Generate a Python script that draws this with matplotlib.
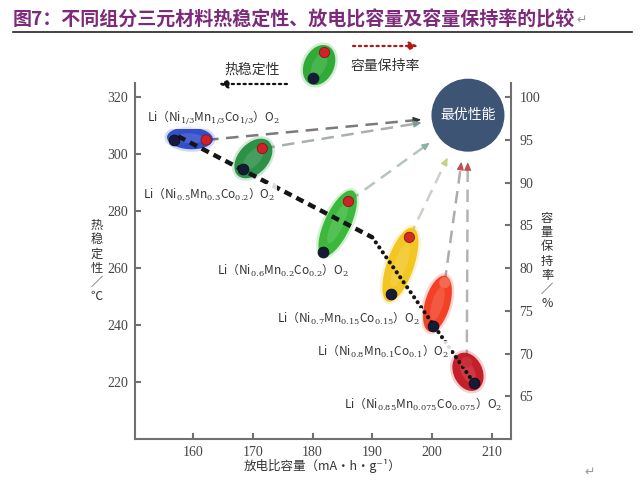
import numpy as np
import matplotlib
matplotlib.use("Agg")
import matplotlib.pyplot as plt
from matplotlib.patches import Ellipse, Circle
from matplotlib.lines import Line2D
from matplotlib import transforms

plt.rcParams['font.family'] = ['Noto Sans CJK SC', 'DejaVu Sans']
plt.rcParams['mathtext.fontset'] = 'dejavuserif'

# ---- data ----
labels = [r"Li（Ni$_{1/3}$Mn$_{1/3}$Co$_{1/3}$）O$_2$",
          r"Li（Ni$_{0.5}$Mn$_{0.3}$Co$_{0.2}$）O$_2$",
          r"Li（Ni$_{0.6}$Mn$_{0.2}$Co$_{0.2}$）O$_2$",
          r"Li（Ni$_{0.7}$Mn$_{0.15}$Co$_{0.15}$）O$_2$",
          r"Li（Ni$_{0.8}$Mn$_{0.1}$Co$_{0.1}$）O$_2$",
          r"Li（Ni$_{0.85}$Mn$_{0.075}$Co$_{0.075}$）O$_2$"]
# dark dots: capacity vs thermal stability (left axis)
cap_thermal = [156.8, 168.4, 181.8, 193.2, 200.1, 207.0]
thermal = [304.9, 294.7, 265.8, 251.0, 239.8, 219.7]
# red dots: capacity vs capacity retention (right axis)
cap_retention = [162.2, 171.6, 186.0, 196.2, 202.1, 205.8]
retention = [95.0, 94.0, 87.8, 83.6, 78.3, 69.0]
# centres of the coloured blobs (left axis units)
blob_x = [159.5, 170.1, 184.2, 194.7, 200.9, 206.0]
blob_y = [305.6, 298.5, 275.7, 261.2, 247.5, 223.6]
# trend line through the series
trend_x = [157.5, 190.0, 207.0]
trend_y = [306.3, 270.8, 219.7]
# "best performance" target
best_x, best_y = 206.0, 313.7
# legend blob
legend_x, legend_y = 181.1, 331.3

x_ticks = [160, 170, 180, 190, 200, 210]
yl_ticks = [220, 240, 260, 280, 300, 320]
yr_ticks = [65, 70, 75, 80, 85, 90, 95, 100]

# ---- style ----
blob_size = [(46, 22, -3), (46, 30, 48), (72, 26, 65), (78, 27, 71), (58, 25, 74), (40, 29, -65)]
blob_col = ['#2442c8', '#1f8a3c', '#2fb52f', '#f2c414', '#f23418', '#c2101c']
red_dot_col = ['#d0202a', '#d0202a', '#d0202a', '#d42a20', '#f46a50', '#c8303a']
red_dot_edge = ['#901018', '#901018', '#901018', '#901018', '#f46a50', '#c8303a']
line_col = ['#7a7a7a', '#a8b0ae', '#b8c4c0', '#cfcfc8', '#b0aaaa', '#b4b4b4']
head_col = ['#333333', '#7a9a98', '#8ab0a8', '#c8d080', '#c05050', '#c05050']
spine_c = '#707070'
W, H = 640, 487

fig = plt.figure(figsize=(W / 100, H / 100), dpi=100)
fig.patch.set_facecolor('white')
ax = fig.add_axes([135 / W, 48 / H, 376 / W, 356 / H])
ax.set_xlim(150.3, 213.2)
ax.set_ylim(200, 325)
ax2 = ax.twinx()
ax2.set_ylim(60, 60 + 125 / 3)

for a in (ax, ax2):
    a.spines['top'].set_visible(False)
    for s in a.spines.values():
        s.set_color(spine_c)
        s.set_linewidth(1.5)
ax.spines['right'].set_visible(False)
ax2.spines['left'].set_visible(False)
ax2.spines['bottom'].set_visible(False)

ax.set_xticks(x_ticks)
ax.set_yticks(yl_ticks)
ax2.set_yticks(yr_ticks)
ax.tick_params(direction='in', length=4, width=1.5, color=spine_c, labelsize=10,
               labelcolor='#444444', pad=5)
ax2.tick_params(direction='in', length=4, width=1.5, color=spine_c, labelsize=10,
                labelcolor='#444444', pad=6)
for t in ax.get_xticklabels() + ax.get_yticklabels() + ax2.get_yticklabels():
    t.set_fontfamily('Liberation Serif')


def place(axis, x, y):
    return fig.dpi_scale_trans + transforms.ScaledTranslation(x, y, axis.transData)


def blob(x, y, w, h, ang, col, z, clip=True):
    tr = place(ax, x, y)
    g = Ellipse((0, 0), (w + 5) / 100, (h + 5) / 100, angle=ang, transform=tr,
                facecolor=col, edgecolor='none', alpha=0.2, zorder=z, clip_on=clip)
    b = Ellipse((0, 0), w / 100, h / 100, angle=ang, transform=tr,
                facecolor=col, edgecolor='none', alpha=0.92, zorder=z + 0.1, clip_on=clip)
    hl = Ellipse((0, 0), w * 0.6 / 100, h * 0.45 / 100, angle=ang, transform=tr,
                 facecolor='white', edgecolor='none', alpha=0.12, zorder=z + 0.2, clip_on=clip)
    for p in (g, b, hl):
        ax.add_patch(p)


fig.canvas.draw()

# dashed guide arrows from the red dots to the target circle
c_pix = ax.transData.transform((best_x, best_y))
for xr, yr, lc, hc in zip(cap_retention, retention, line_col, head_col):
    p0 = ax2.transData.transform((xr, yr))
    d = c_pix - p0
    u = d / np.hypot(*d)
    p1 = c_pix - u * 47
    p_head0 = p1 - u * 7
    inv = ax.transData.inverted()
    a0, a1, ah = inv.transform(p0), inv.transform(p1), inv.transform(p_head0)
    ax.plot([a0[0], ah[0]], [a0[1], ah[1]], ls=(0, (5, 3)), color=lc, lw=1.8, zorder=1)
    ax.annotate('', xy=a1, xytext=ah,
                arrowprops=dict(arrowstyle='-|>,head_length=0.45,head_width=0.2',
                                color=hc, lw=1, shrinkA=0, shrinkB=0), zorder=1)

# blobs
for i in range(len(blob_x)):
    w, h, ang = blob_size[i]
    blob(blob_x[i], blob_y[i], w, h, ang, blob_col[i], 2)

# trend line
ax.plot(trend_x[:2], trend_y[:2], ls=(0, (1.8, 1.2)), lw=3.2, color='#151515', zorder=4)
ax.plot(trend_x[1:], trend_y[1:], ls=(0, (0.01, 1.45)), lw=3.0, color='#151515',
        dash_capstyle='round', zorder=4)

# dots
ax.scatter(cap_thermal, thermal, s=60, color='#141a38', edgecolors='#0a0a1a',
           linewidths=0.6, zorder=5)
ax2.scatter(cap_retention, retention, s=55, color=red_dot_col, edgecolors=red_dot_edge,
            linewidths=0.6, zorder=5)

# material labels, offset from the dark dots (pixels)
label_off = [(-27, 22), (-100, -25), (-106, -19), (-114, -25), (-116, -26), (-130, -22)]
for lab, x, y, off in zip(labels, cap_thermal, thermal, label_off):
    ax.annotate(lab, xy=(x, y), xytext=off, textcoords='offset pixels',
                fontsize=8.5, color='#333333', ha='left', va='center', zorder=6,
                bbox=dict(boxstyle='square,pad=0.15', fc='white', ec='none', alpha=0.85))

# best performance circle
ax.add_patch(Circle((0, 0), 0.365, transform=place(ax, best_x, best_y),
                    facecolor='#3d5474', edgecolor='none', zorder=7, clip_on=False))
ax.text(best_x, best_y, '最优性能', color='white', fontsize=10, ha='center',
        va='center', zorder=8)

# legend blob and arrows at the top
blob(legend_x, legend_y, 42, 30, 65, '#22a62a', 2, clip=False)
ax.scatter([legend_x + 0.8], [legend_y + 4.6], s=55, color='#d0202a', edgecolors='#901018',
           linewidths=0.6, zorder=5, clip_on=False)
ax.scatter([legend_x - 1.0], [legend_y - 4.6], s=55, color='#141a38', zorder=5, clip_on=False)

fig.text(252 / W, 1 - 70 / H, '热稳定性', fontsize=10, color='#333333', ha='center', va='center')
fig.text(385 / W, 1 - 66 / H, '容量保持率', fontsize=10, color='#333333', ha='center', va='center')
ax.annotate('', xy=(219, H - 84), xytext=(287, H - 84), xycoords='figure pixels',
            textcoords='figure pixels',
            arrowprops=dict(arrowstyle='-|>,head_length=0.5,head_width=0.25', color='#111111',
                            lw=1.6, ls=':', shrinkA=0, shrinkB=0))
ax.annotate('', xy=(418, H - 46), xytext=(353, H - 46), xycoords='figure pixels',
            textcoords='figure pixels',
            arrowprops=dict(arrowstyle='-|>,head_length=0.5,head_width=0.25', color='#b01818',
                            lw=1.6, ls=':', shrinkA=0, shrinkB=0))

# axis titles (stacked vertical characters)
fig.text(97 / W, 1 - 261 / H, '\n'.join('热稳定性／℃'), fontsize=8.8, color='#333333',
         ha='center', va='center', linespacing=1.12)
fig.text(547 / W, 1 - 261 / H, '\n'.join('容量保持率／%'), fontsize=8.8, color='#333333',
         ha='center', va='center', linespacing=1.12)
fig.text(322 / W, 1 - 466 / H, '放电比容量（mA•h•g⁻¹）', fontsize=9, color='#333333',
         ha='center', va='center')

# title
title = fig.text(13 / W, 1 - 20 / H, '图7：不同组分三元材料热稳定性、放电比容量及容量保持率的比较',
                 fontsize=13.7, fontweight='bold', color='#7d2a7a', ha='left', va='center')
fig.canvas.draw()
bb = title.get_window_extent()
fig.text(bb.x1 / W + 0.002, 1 - 20 / H, '↵', fontsize=9, color='#999999', ha='left', va='center',
         family='DejaVu Sans')
fig.add_artist(Line2D([13 / W, 632 / W], [1 - 32 / H] * 2, color='#222222', lw=1.2))
fig.text(590 / W, 1 - 472 / H, '↵', fontsize=9, color='#999999', ha='center', va='center',
         family='DejaVu Sans')

fig.savefig('out.png', dpi=100)
